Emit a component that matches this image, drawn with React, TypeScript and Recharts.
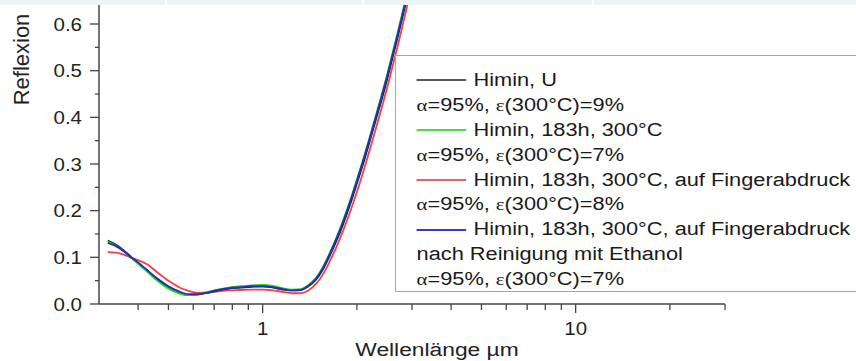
import { LineChart, Line, XAxis, YAxis, Legend } from 'recharts';

// Wellenlänge in µm
const wavelengths = [
  0.32, 0.34, 0.36, 0.38, 0.40, 0.43, 0.46, 0.50, 0.54, 0.58, 0.62, 0.67, 0.72, 0.78,
  0.85, 0.92, 1.0, 1.08, 1.16, 1.24, 1.32, 1.40, 1.48, 1.56, 1.64, 1.72, 1.80, 1.90,
  2.0, 2.1, 2.2, 2.3, 2.4, 2.5, 2.6, 2.7, 2.8, 2.9, 3.0, 3.1,
];

// Reflexion
const himinU = [
  0.136, 0.127, 0.115, 0.101, 0.088, 0.071, 0.052, 0.035, 0.024, 0.019, 0.020, 0.024, 0.029, 0.033,
  0.035, 0.037, 0.038, 0.035, 0.031, 0.029, 0.030, 0.038, 0.052, 0.075, 0.104, 0.135, 0.168, 0.212,
  0.258, 0.303, 0.350, 0.395, 0.438, 0.482, 0.528, 0.572, 0.616, 0.660, 0.702, 0.745,
];
const himin183h = [
  0.134, 0.125, 0.113, 0.099, 0.086, 0.068, 0.050, 0.033, 0.023, 0.019, 0.021, 0.026, 0.031, 0.035,
  0.038, 0.040, 0.041, 0.039, 0.034, 0.031, 0.032, 0.041, 0.056, 0.080, 0.110, 0.142, 0.176, 0.220,
  0.266, 0.312, 0.358, 0.404, 0.448, 0.492, 0.538, 0.582, 0.626, 0.670, 0.712, 0.755,
];
const fingerprint = [
  0.111, 0.110, 0.106, 0.099, 0.094, 0.084, 0.068, 0.050, 0.036, 0.028, 0.024, 0.025, 0.027, 0.029,
  0.030, 0.031, 0.031, 0.029, 0.026, 0.023, 0.023, 0.029, 0.043, 0.064, 0.092, 0.122, 0.154, 0.196,
  0.240, 0.285, 0.331, 0.376, 0.420, 0.464, 0.509, 0.553, 0.597, 0.641, 0.684, 0.726,
];
const cleaned = [
  0.131, 0.124, 0.113, 0.100, 0.089, 0.071, 0.055, 0.038, 0.027, 0.021, 0.021, 0.025, 0.030, 0.034,
  0.036, 0.038, 0.038, 0.036, 0.032, 0.029, 0.030, 0.039, 0.054, 0.078, 0.108, 0.140, 0.173, 0.218,
  0.264, 0.310, 0.356, 0.401, 0.445, 0.489, 0.534, 0.578, 0.622, 0.666, 0.708, 0.750,
];

const seriesKeys = ['u', 'h183', 'finger', 'cleaned'];
const seriesColors = ['#1e1e1e', '#22d822', '#f0404a', '#2a2ac4'];
const legendColors = ['#555555', '#44dd44', '#e8606a', '#3a3ac8'];
const seriesNames = [
  'Himin, U',
  'Himin, 183h, 300°C',
  'Himin, 183h, 300°C, auf Fingerabdruck',
  'Himin, 183h, 300°C, auf Fingerabdruck',
];
const seriesExtraLines = [[], [], [], ['nach Reinigung mit Ethanol']];
const alphaValues = [95, 95, 95, 95];
const epsilonValues = [9, 7, 8, 7];

const xTicks = [0.4, 0.5, 0.6, 0.7, 0.8, 0.9, 1, 2, 3, 4, 5, 6, 7, 8, 9, 10, 20, 30];
const xLabels = [1, 10];
const yTicks = [0, 0.05, 0.1, 0.15, 0.2, 0.25, 0.3, 0.35, 0.4, 0.45, 0.5, 0.55, 0.6];

const chartData = wavelengths.map((wl, i) => ({
  wl,
  u: himinU[i],
  h183: himin183h[i],
  finger: fingerprint[i],
  cleaned: cleaned[i],
}));

// chart is shifted up a bit, the scan cuts the curves off at the top
const SHIFT = 9;
const AXIS_X = 99;
const AXIS_Y = 313;
const STRETCH = 1.17;
const FONT = '"Liberation Sans", Arial, sans-serif';

function YTick(props: any) {
  const { y, payload } = props;
  const v = payload.value;
  const major = Math.abs(v * 10 - Math.round(v * 10)) < 1e-6;
  return (
    <g>
      <line x1={major ? AXIS_X - 9 : AXIS_X - 4} x2={AXIS_X} y1={y} y2={y} stroke="#444" strokeWidth={1.3} />
      {major && (
        <text
          transform={`translate(${AXIS_X - 17},${y + 6.8}) scale(${STRETCH},1)`}
          textAnchor="end"
          fontSize={17.5}
          fontFamily={FONT}
          fill="#222"
        >
          {v.toFixed(1)}
        </text>
      )}
    </g>
  );
}

function XTick(props: any) {
  const { x, payload } = props;
  const v = payload.value;
  const major = xLabels.includes(v);
  return (
    <g>
      <line x1={x} x2={x} y1={AXIS_Y} y2={AXIS_Y + (major ? 9 : 6)} stroke="#444" strokeWidth={1.3} />
      {major && (
        <text
          transform={`translate(${x},${AXIS_Y + 31}) scale(${STRETCH},1)`}
          textAnchor="middle"
          fontSize={17.5}
          fontFamily={FONT}
          fill="#222"
        >
          {v}
        </text>
      )}
    </g>
  );
}

function Greek({ children }: { children: string }) {
  return <span style={{ fontFamily: '"Liberation Serif", serif', fontSize: '0.95em' }}>{children}</span>;
}

function LegendBox() {
  const rows: any[] = [];
  seriesNames.forEach((name, i) => {
    rows.push(
      <div key={`n${i}`} style={{ display: 'flex', alignItems: 'center', height: 24.9 }}>
        <div style={{ width: 41, height: 2, background: legendColors[i], marginRight: 6, flexShrink: 0 }} />
        <span>{name}</span>
      </div>
    );
    seriesExtraLines[i].forEach((t, j) => {
      rows.push(
        <div key={`e${i}-${j}`} style={{ height: 24.9, lineHeight: '24.9px' }}>{t}</div>
      );
    });
    rows.push(
      <div key={`a${i}`} style={{ height: 24.9, lineHeight: '24.9px' }}>
        <Greek>α</Greek>={alphaValues[i]}%, <Greek>ε</Greek>(300°C)={epsilonValues[i]}%
      </div>
    );
  });
  return (
    <div
      style={{
        width: 480,
        height: 237,
        boxSizing: 'border-box',
        border: '1px solid #a6a6a6',
        background: '#fff',
        overflow: 'hidden',
      }}
    >
      <div
        style={{
          transform: 'scale(1.21,1)',
          transformOrigin: 'left top',
          paddingLeft: 17,
          paddingTop: 12,
          fontFamily: FONT,
          fontSize: 18,
          color: '#1a1a1a',
          whiteSpace: 'nowrap',
        }}
      >
        {rows}
      </div>
    </div>
  );
}

export default function App() {
  return (
    <div
      style={{
        position: 'absolute',
        left: 0,
        top: 0,
        width: 856,
        height: 361,
        overflow: 'hidden',
        background: '#fff',
        fontFamily: FONT,
      }}
    >
      <div style={{ position: 'absolute', left: 0, top: -SHIFT }}>
        <LineChart width={856} height={370} data={chartData} margin={{ top: 5, right: 131, bottom: 0, left: 0 }}>
          <XAxis
            dataKey="wl"
            type="number"
            scale="log"
            domain={[0.3, 30]}
            allowDataOverflow
            ticks={xTicks}
            interval={0}
            height={57}
            tick={<XTick />}
            tickLine={false}
            axisLine={{ stroke: '#444', strokeWidth: 1.5 }}
          />
          <YAxis
            type="number"
            domain={[0, 0.66]}
            allowDataOverflow
            ticks={yTicks}
            interval={0}
            width={99}
            tick={<YTick />}
            tickLine={false}
            axisLine={{ stroke: '#444', strokeWidth: 1.5 }}
          />
          <Legend
            layout="horizontal"
            verticalAlign="middle"
            align="center"
            wrapperStyle={{ left: 395, top: 55 + SHIFT, width: 480, height: 237 }}
            content={() => <LegendBox />}
          />
          {[2, 0, 1, 3].map((i) => (
            <Line
              key={seriesKeys[i]}
              dataKey={seriesKeys[i]}
              name={seriesNames[i]}
              type="monotone"
              stroke={seriesColors[i]}
              strokeWidth={1.8}
              dot={false}
              isAnimationActive={false}
            />
          ))}
        </LineChart>
      </div>
      <svg width={856} height={361} style={{ position: 'absolute', left: 0, top: 0, pointerEvents: 'none' }}>
        <text transform="translate(28.5,59.5) rotate(-90)" textAnchor="middle" fontSize={22} fontFamily={FONT} fill="#222">
          Reflexion
        </text>
        <text transform="translate(437,356) scale(1.2,1)" textAnchor="middle" fontSize={19} fontFamily={FONT} fill="#222">
          Wellenlänge µm
        </text>
      </svg>
      <div style={{ position: 'absolute', left: 0, top: 0, width: 856, height: 5, background: '#eef3f7' }}>
        <div style={{ position: 'absolute', left: 165, top: 0, width: 2, height: 5, background: '#fff' }} />
        <div style={{ position: 'absolute', left: 362, top: 0, width: 2, height: 5, background: '#fff' }} />
        <div style={{ position: 'absolute', left: 592, top: 0, width: 2, height: 5, background: '#fff' }} />
      </div>
    </div>
  );
}
